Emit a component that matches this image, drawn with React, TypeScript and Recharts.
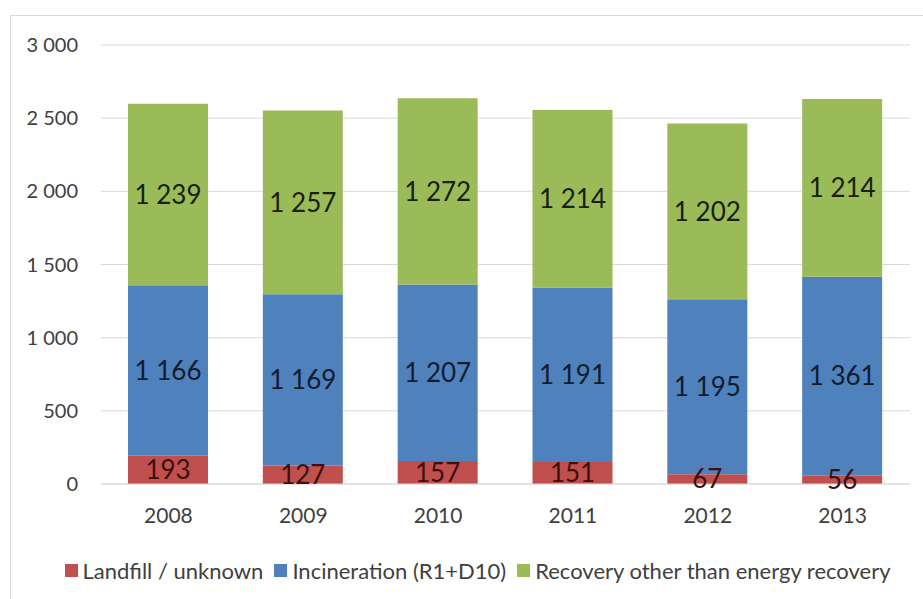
import { BarChart, Bar, XAxis, YAxis, CartesianGrid, Legend, LabelList } from 'recharts'

const years = ['2008', '2009', '2010', '2011', '2012', '2013']
const landfill = [193, 127, 157, 151, 67, 56]
const incineration = [1166, 1169, 1207, 1191, 1195, 1361]
const recovery = [1239, 1257, 1272, 1214, 1202, 1214]
const yTicks = [0, 500, 1000, 1500, 2000, 2500, 3000]

const SERIES = [
  { key: 'landfill', name: 'Landfill / unknown', color: '#C0504D', text: '#3d0f0e' },
  { key: 'incineration', name: 'Incineration (R1+D10)', color: '#4F81BD', text: '#101c2e' },
  { key: 'recovery', name: 'Recovery other than energy recovery', color: '#9BBB59', text: '#17200a' },
]

const FONT = 'Lato, "Open Sans", sans-serif'

// thousands with a space, like "1 239"
const fmt = (v: any) => String(v).replace(/\B(?=(\d{3})+(?!\d))/g, ' ')

const chartData = years.map((year, i) => ({
  year,
  landfill: landfill[i],
  incineration: incineration[i],
  recovery: recovery[i],
}))

function LegendRow() {
  return (
    <div
      style={{
        display: 'flex',
        justifyContent: 'center',
        alignItems: 'center',
        fontFamily: FONT,
        fontSize: 22,
        color: '#404040',
        height: 26,
        paddingLeft: 56,
      }}
    >
      {SERIES.map((s) => (
        <span key={s.key} style={{ display: 'flex', alignItems: 'center', marginRight: 11 }}>
          <span style={{ width: 13, height: 13, background: s.color, display: 'inline-block', marginRight: 5 }} />
          {s.name}
        </span>
      ))}
    </div>
  )
}

export default function App() {
  return (
    <div
      style={{
        position: 'absolute',
        left: 0,
        top: 0,
        width: 923,
        height: 599,
        overflow: 'hidden',
        background: '#fff',
      }}
    >
      <div
        style={{
          position: 'absolute',
          left: 10,
          top: 15,
          width: 940,
          height: 620,
          border: '1px solid #d9d9d9',
        }}
      />
      <BarChart
        width={923}
        height={599}
        data={chartData}
        margin={{ top: 45, right: 13, left: 0, bottom: 16 }}
        barSize={80}
      >
        <CartesianGrid vertical={false} stroke="#d9d9d9" />
        <XAxis
          dataKey="year"
          height={73}
          tickLine={false}
          axisLine={{ stroke: '#d9d9d9' }}
          tickMargin={18}
          tick={{ fill: '#404040', fontSize: 21, fontFamily: FONT }}
        />
        <YAxis
          width={101}
          domain={[0, 3000]}
          ticks={yTicks}
          tickLine={false}
          axisLine={false}
          tickMargin={17}
          tickFormatter={fmt}
          tick={{ fill: '#404040', fontSize: 20, fontFamily: FONT }}
        />
        <Legend verticalAlign="bottom" content={() => <LegendRow />} />
        {SERIES.map((s) => (
          <Bar key={s.key} dataKey={s.key} name={s.name} stackId="a" fill={s.color} isAnimationActive={false}>
            <LabelList
              dataKey={s.key}
              position="center"
              formatter={fmt}
              style={{ fill: s.text, fontSize: 26, fontFamily: FONT }}
            />
          </Bar>
        ))}
      </BarChart>
    </div>
  )
}
